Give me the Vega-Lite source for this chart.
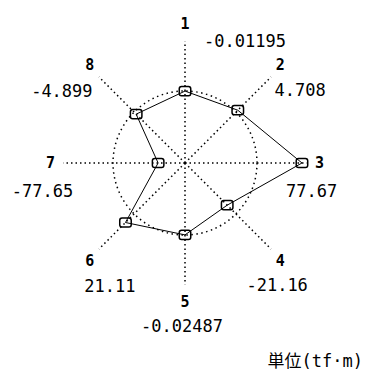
{
  "$schema": "https://vega.github.io/schema/vega-lite/v6.json",
  "width": 369,
  "height": 379,
  "autosize": {"type": "none"},
  "padding": 0,
  "background": "white",
  "config": {"view": {"stroke": null}},
  "title": {
    "text": "単位(tf·m)",
    "orient": "bottom",
    "anchor": "end",
    "offset": -25,
    "dx": -6,
    "font": "DejaVu Sans Mono, Noto Sans CJK JP",
    "fontSize": 17,
    "fontWeight": "normal",
    "color": "black"
  },
  "datasets": {
    "axes": [
      {"axis": 1, "value": -0.01195, "label": "-0.01195"},
      {"axis": 2, "value": 4.708, "label": "4.708"},
      {"axis": 3, "value": 77.67, "label": "77.67"},
      {"axis": 4, "value": -21.16, "label": "-21.16"},
      {"axis": 5, "value": -0.02487, "label": "-0.02487"},
      {"axis": 6, "value": 21.11, "label": "21.11"},
      {"axis": 7, "value": -77.65, "label": "-77.65"},
      {"axis": 8, "value": -4.899, "label": "-4.899"}
    ]
  },
  "data": {"name": "axes"},
  "transform": [
    {"calculate": "(datum.axis - 1) * PI / 4", "as": "a"},
    {"calculate": "0", "as": "c"},
    {"calculate": "(datum.value + 124) * sin(datum.a)", "as": "px"},
    {"calculate": "(datum.value + 124) * cos(datum.a)", "as": "py"},
    {"calculate": "210 * sin(datum.a)", "as": "ex"},
    {"calculate": "210 * cos(datum.a)", "as": "ey"},
    {"calculate": "232 * sin(datum.a)", "as": "nx"},
    {"calculate": "240 * cos(datum.a)", "as": "ny"}
  ],
  "layer": [
    {
      "mark": {"type": "rule", "color": "black", "strokeWidth": 1.5, "strokeDash": [1.5, 3]},
      "encoding": {
        "x": {"field": "c", "type": "quantitative", "scale": {"domain": [-318.97, 317.24], "nice": false, "zero": false}, "axis": null},
        "y": {"field": "c", "type": "quantitative", "scale": {"domain": [-372.41, 281.03], "nice": false, "zero": false}, "axis": null},
        "x2": {"field": "ex"},
        "y2": {"field": "ey"}
      }
    },
    {
      "transform": [{"filter": "datum.axis == 1"}],
      "mark": {"type": "point", "shape": "circle", "size": 20736, "filled": false, "stroke": "black", "strokeWidth": 1.5, "strokeDash": [1.5, 3.5], "opacity": 1},
      "encoding": {
        "x": {"field": "c", "type": "quantitative"},
        "y": {"field": "c", "type": "quantitative"}
      }
    },
    {
      "mark": {"type": "line", "interpolate": "linear-closed", "color": "black", "strokeWidth": 1},
      "encoding": {
        "x": {"field": "px", "type": "quantitative"},
        "y": {"field": "py", "type": "quantitative"},
        "order": {"field": "axis"}
      }
    },
    {
      "mark": {"type": "point", "shape": "M-0.6,-0.8L0.6,-0.8Q1,-0.8 1,-0.4L1,0.4Q1,0.8 0.6,0.8L-0.6,0.8Q-1,0.8 -1,0.4L-1,-0.4Q-1,-0.8 -0.6,-0.8Z", "size": 132, "filled": false, "stroke": "black", "strokeWidth": 1.5, "opacity": 1},
      "encoding": {
        "x": {"field": "px", "type": "quantitative"},
        "y": {"field": "py", "type": "quantitative"}
      }
    },
    {
      "mark": {"type": "text", "font": "DejaVu Sans Mono", "fontSize": 15, "fontWeight": "bold", "color": "black", "align": "center", "baseline": "middle"},
      "encoding": {
        "x": {"field": "nx", "type": "quantitative"},
        "y": {"field": "ny", "type": "quantitative"},
        "text": {"field": "axis"}
      }
    },
    {
      "transform": [{"filter": "datum.axis == 1"}],
      "mark": {"type": "text", "font": "DejaVu Sans Mono", "fontSize": 17, "color": "black", "align": "left", "baseline": "middle", "dx": 19, "dy": 18},
      "encoding": {
        "x": {"field": "nx", "type": "quantitative"},
        "y": {"field": "ny", "type": "quantitative"},
        "text": {"field": "label"}
      }
    },
    {
      "transform": [{"filter": "datum.axis == 2 || datum.axis == 6"}],
      "mark": {"type": "text", "font": "DejaVu Sans Mono", "fontSize": 17, "color": "black", "align": "center", "baseline": "middle", "dx": 20, "dy": 26},
      "encoding": {
        "x": {"field": "nx", "type": "quantitative"},
        "y": {"field": "ny", "type": "quantitative"},
        "text": {"field": "label"}
      }
    },
    {
      "transform": [{"filter": "datum.axis == 3 || datum.axis == 7"}],
      "mark": {"type": "text", "font": "DejaVu Sans Mono", "fontSize": 17, "color": "black", "align": "center", "baseline": "middle", "dx": -8, "dy": 29},
      "encoding": {
        "x": {"field": "nx", "type": "quantitative"},
        "y": {"field": "ny", "type": "quantitative"},
        "text": {"field": "label"}
      }
    },
    {
      "transform": [{"filter": "datum.axis == 4 || datum.axis == 5"}],
      "mark": {"type": "text", "font": "DejaVu Sans Mono", "fontSize": 17, "color": "black", "align": "center", "baseline": "middle", "dx": -3, "dy": 25},
      "encoding": {
        "x": {"field": "nx", "type": "quantitative"},
        "y": {"field": "ny", "type": "quantitative"},
        "text": {"field": "label"}
      }
    },
    {
      "transform": [{"filter": "datum.axis == 8"}],
      "mark": {"type": "text", "font": "DejaVu Sans Mono", "fontSize": 17, "color": "black", "align": "center", "baseline": "middle", "dx": -28, "dy": 27},
      "encoding": {
        "x": {"field": "nx", "type": "quantitative"},
        "y": {"field": "ny", "type": "quantitative"},
        "text": {"field": "label"}
      }
    }
  ]
}
